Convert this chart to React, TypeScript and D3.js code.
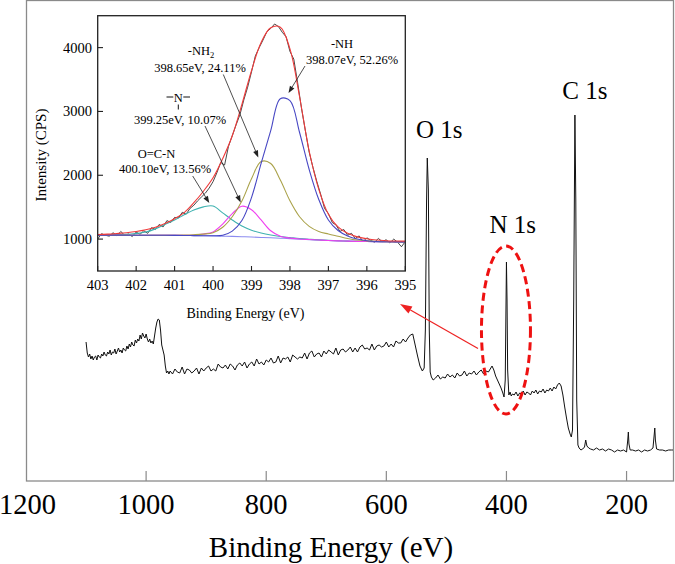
import {useEffect, useRef} from "react";
import * as d3 from "d3";

const W = 675;
const H = 564;
const FONT = "'Liberation Serif', 'Times New Roman', serif";

// survey spectrum (binding energy in eV, intensity in 100 CPS)
const surveyEnergy = [
  1100, 1098, 1096, 1094, 1092, 1090, 1088, 1086, 1084, 1082, 1080, 1078, 1076, 1074, 1072, 1070, 1068, 1066, 1064,
  1062, 1060, 1058, 1056, 1054, 1052, 1050, 1048, 1046, 1044, 1042, 1040, 1038, 1036, 1034, 1032, 1030, 1028, 1026,
  1024, 1022, 1020, 1018, 1016, 1014, 1012, 1010, 1008, 1006, 1004, 1002, 1000, 998, 996, 994, 992, 990, 988, 986,
  984, 982, 980, 978, 976, 974, 972, 970, 968, 966, 964, 962,
  960, 956, 952, 948, 944, 940, 936, 932, 928, 924, 920, 916, 912, 908, 904, 900, 896, 892, 888, 884,
  880, 876, 872, 868, 864, 860, 856, 852, 848, 844, 840, 836, 832, 828, 824, 820, 816, 812, 808, 804,
  800, 796, 792, 788, 784, 780, 776, 772, 768, 764, 760, 756, 752, 748, 744, 740, 736, 732, 728, 724,
  720, 716, 712, 708, 704, 700, 696, 692, 688, 684, 680, 676, 672, 668, 664, 660, 656, 652, 648, 644,
  640, 636, 632, 628, 624, 620, 616, 612, 608, 604, 600, 596, 592, 588, 584, 580, 576, 572, 568, 564,
  560, 556, 552, 548, 544, 540, 537, 535, 533, 531.8, 530, 528.5, 527, 525, 522, 518, 514, 510, 506, 502, 498, 494,
  490, 486, 482, 478, 474, 470, 466, 462, 458, 454, 450, 446, 442, 438, 434, 430, 426, 424, 421, 418, 415, 412, 409,
  406, 404, 402, 401, 400, 399, 398, 396, 394, 392, 390, 387, 384, 381, 378, 375, 372, 369, 366, 363, 360, 357, 354,
  351, 348, 345, 342, 339, 336, 333, 330, 327, 324, 321, 318, 315, 312, 309, 306, 303, 300, 297, 294, 292, 290, 288,
  286, 284.5, 283, 281, 279, 276, 273, 270, 268, 266, 263, 260, 255, 250, 245, 240, 235, 230, 225, 220, 215, 210, 205,
  200, 198, 197, 196, 194, 190, 185, 180, 175, 170, 165, 160, 156, 154, 153, 152, 150, 145, 140, 135, 130, 125, 122,
];
const surveyCounts = [
  139, 128, 124, 127, 122, 125, 121, 124, 125, 121, 126, 124, 123, 127, 125, 129, 126, 125, 129,
  127, 131, 126, 129, 128, 132, 127, 130, 133, 129, 131, 128, 133, 131, 130, 135, 132, 137, 134,
  139, 136, 135, 141, 138, 142, 140, 146, 142, 148, 145, 143, 147, 142, 139, 142, 138, 140, 137, 145,
  153, 159, 162, 161, 151, 136, 131, 126, 115, 108, 110, 107,
  110, 107, 112, 109, 108, 114, 107, 112, 111, 108, 110, 113, 107, 113, 110, 113, 115, 110, 112, 110,
  117, 114, 113, 116, 112, 117, 115, 111, 116, 118, 115, 119, 113, 117, 119, 115, 122, 117, 119, 116,
  121, 119, 123, 118, 119, 125, 118, 123, 122, 124, 119, 126, 124, 122, 124, 123, 128, 122, 128, 130,
  124, 127, 128, 124, 130, 127, 131, 129, 127, 133, 126, 131, 132, 129, 131, 134, 129, 133, 129, 134,
  136, 132, 133, 131, 137, 131, 135, 136, 134, 135, 139, 134, 137, 134, 140, 138, 138, 142, 139, 143,
  146, 147, 136, 125, 115, 110, 113, 151, 281, 323, 291, 151, 109, 104, 101, 103, 106, 102, 104, 103, 107, 104,
  106, 103, 108, 105, 106, 110, 105, 108, 107, 110, 106, 109, 111, 107, 110, 109, 113, 115, 111, 105, 101, 97, 93,
  88, 84, 101, 161, 219, 181, 111, 86, 89, 85, 87, 86, 89, 85, 88, 87, 90, 86, 89, 88, 86, 90, 88,
  91, 87, 90, 89, 92, 88, 91, 90, 93, 90, 94, 92, 96, 98, 95, 86, 74, 63, 53, 47, 44, 51, 181,
  366, 281, 81, 36, 33, 31, 32, 34, 41, 35, 33, 32, 31, 33, 31, 32, 30, 32, 31, 29, 31, 30, 31,
  29, 41, 49, 37, 31, 31, 30, 31, 29, 31, 30, 31, 33, 46, 53, 41, 32, 31, 31, 30, 31, 31, 31,
];
const surveyTicks = [1200, 1000, 800, 600, 400, 200];

// N 1s high resolution inset (CPS)
const insetEnergy = [
  403, 402.75, 402.5, 402.25, 402, 401.75, 401.5, 401.25, 401, 400.75, 400.5, 400.25, 400, 399.75, 399.5, 399.25,
  399, 398.75, 398.5, 398.25, 398, 397.75, 397.5, 397.25, 397, 396.75, 396.5, 396.25, 396, 395.75, 395.5, 395.25, 395,
];
const backgroundCPS = [
  1062, 1062, 1062, 1061, 1061, 1060, 1060, 1059, 1058, 1057, 1055, 1053, 1050, 1046, 1042, 1037,
  1032, 1026, 1020, 1014, 1008, 1000, 992, 985, 978, 972, 968, 964, 962, 959, 958, 957, 956,
];
const ocnCPS = [
  1063, 1064, 1067, 1074, 1085, 1110, 1160, 1230, 1300, 1380, 1455, 1505, 1518, 1410, 1300, 1205,
  1140, 1095, 1063, 1040, 1025, 1010, 998, 988, 980, 973, 968, 964, 962, 959, 958, 957, 956,
];
const nBridgeCPS = [
  1062, 1062, 1062, 1061, 1061, 1060, 1060, 1059, 1058, 1060, 1064, 1080, 1112, 1235, 1400, 1515,
  1460, 1300, 1130, 1045, 1015, 1002, 993, 985, 978, 972, 968, 964, 962, 959, 958, 957, 956,
];
const nh2CPS = [
  1062, 1062, 1062, 1061, 1061, 1060, 1060, 1059, 1060, 1062, 1068, 1078, 1100, 1185, 1350, 1595,
  1945, 2215, 2185, 1925, 1600, 1350, 1200, 1120, 1080, 1045, 1010, 985, 972, 963, 959, 957, 956,
];
const nhCPS = [
  1062, 1062, 1062, 1061, 1061, 1060, 1060, 1059, 1058, 1057, 1055, 1053, 1052, 1060, 1125, 1290,
  1650, 2185, 2700, 3200, 3170, 2670, 2090, 1620, 1300, 1135, 1050, 1000, 975, 963, 958, 957, 956,
];
const envelopeCPS = [
  1072, 1078, 1088, 1100, 1118, 1145, 1185, 1245, 1320, 1415, 1570, 1750, 1960, 2260, 2620, 3110,
  3640, 4080, 4310, 4320, 3980, 3230, 2380, 1780, 1390, 1190, 1090, 1035, 1005, 985, 975, 970, 968,
];
const rawEnergy = [
  403.0, 402.9, 402.8, 402.7, 402.6, 402.5, 402.4, 402.3, 402.2, 402.1, 402.0, 401.9, 401.8, 401.7, 401.6, 401.5,
  401.4, 401.3, 401.2, 401.1, 401.0, 400.9, 400.8, 400.7, 400.6, 400.5, 400.4, 400.3, 400.2, 400.1, 400.0, 399.9,
  399.8, 399.7, 399.6, 399.5, 399.4, 399.3, 399.2, 399.1, 399.0, 398.9, 398.8, 398.7, 398.6, 398.5, 398.4, 398.3,
  398.2, 398.1, 398.0, 397.9, 397.8, 397.7, 397.6, 397.5, 397.4, 397.3, 397.2, 397.1, 397.0, 396.9, 396.8, 396.7,
  396.6, 396.5, 396.4, 396.3, 396.2, 396.1, 396.0, 395.9, 395.8, 395.7, 395.6, 395.5, 395.4, 395.3, 395.2, 395.1,
  395.0,
];
const rawCPS = [
  1000, 1085, 1060, 1045, 1100, 1050, 1120, 1060, 1080, 1040, 1110, 1075, 1130, 1090, 1180, 1150,
  1230, 1190, 1290, 1260, 1340, 1330, 1420, 1390, 1480, 1530, 1600, 1660, 1720, 1800, 1900, 2040,
  2200, 2160, 2450, 2620, 2790, 2950, 3180, 3380, 3620, 3870, 4000, 4120, 4250, 4300, 4370, 4330,
  4240, 4170, 3940, 3820, 3450, 3050, 2700, 2360, 2120, 1900, 1700, 1480, 1400, 1260, 1220, 1120,
  1150, 1060, 1090, 1010, 1050, 960, 1020, 980, 950, 1010, 960, 990, 940, 1000, 950, 880,
  960,
];
const insetXTicks = [403, 402, 401, 400, 399, 398, 397, 396, 395];
const insetYTicks = [1000, 2000, 3000, 4000];

export default function App() {
  const svgRef = useRef<SVGSVGElement>(null);

  useEffect(() => {
    if (!svgRef.current) return;
    const svg = d3.select(svgRef.current);
    svg.selectAll("*").remove();

    // ---------- survey ----------
    const x = d3.scaleLinear().domain([1200, 121]).range([26, 674]);
    const y = d3.scaleLinear().domain([0, 481]).range([481, 0]);

    const survey = surveyEnergy.map((e, i) => [e, surveyCounts[i]] as [number, number]);
    svg
      .append("path")
      .datum(survey)
      .attr("fill", "none")
      .attr("stroke", "#111")
      .attr("stroke-width", 1)
      .attr("d", d3.line<[number, number]>().x((d) => x(d[0])).y((d) => y(d[1])));

    svg
      .append("rect")
      .attr("x", 26.5)
      .attr("y", 0.5)
      .attr("width", 647)
      .attr("height", 480.5)
      .attr("fill", "none")
      .attr("stroke", "#8a8a8a")
      .attr("stroke-width", 1.3);

    surveyTicks.slice(1).forEach((t) => {
      svg
        .append("line")
        .attr("x1", x(t))
        .attr("x2", x(t))
        .attr("y1", 471)
        .attr("y2", 481)
        .attr("stroke", "#8a8a8a")
        .attr("stroke-width", 1.2);
    });
    surveyTicks.forEach((t) => {
      svg
        .append("text")
        .attr("x", t === 1200 ? x(t) + 1.5 : x(t))
        .attr("y", 514)
        .attr("text-anchor", "middle")
        .style("font-family", FONT)
        .style("font-size", "28.5px")
        .text(t);
    });
    svg
      .append("text")
      .attr("x", 331)
      .attr("y", 557)
      .attr("text-anchor", "middle")
      .style("font-family", FONT)
      .style("font-size", "29px")
      .text("Binding Energy (eV)");

    // peak labels
    [
      {t: "O 1s", e: 512, v: 343},
      {t: "N 1s", e: 389.6, v: 248},
      {t: "C 1s", e: 269.3, v: 382},
    ].forEach((p) => {
      svg
        .append("text")
        .attr("x", x(p.e))
        .attr("y", y(p.v))
        .attr("text-anchor", "middle")
        .style("font-family", FONT)
        .style("font-size", "25px")
        .text(p.t);
    });

    // dashed ellipse around N 1s
    svg
      .append("ellipse")
      .attr("cx", x(400.8))
      .attr("cy", y(151))
      .attr("rx", 24.5)
      .attr("ry", 84)
      .attr("fill", "none")
      .attr("stroke", "#ee1111")
      .attr("stroke-width", 3)
      .attr("stroke-dasharray", "8 4.5");

    const arrow = (x1: number, y1: number, x2: number, y2: number, color: string, len: number, half: number, w: number) => {
      const a = Math.atan2(y2 - y1, x2 - x1);
      const bx = x2 - len * Math.cos(a);
      const by = y2 - len * Math.sin(a);
      svg
        .append("line")
        .attr("x1", x1)
        .attr("y1", y1)
        .attr("x2", bx)
        .attr("y2", by)
        .attr("stroke", color)
        .attr("stroke-width", w);
      const px = -Math.sin(a) * half;
      const py = Math.cos(a) * half;
      svg
        .append("path")
        .attr("d", `M${x2},${y2}L${bx + px},${by + py}L${bx - px},${by - py}Z`)
        .attr("fill", color);
    };
    arrow(478, 348.5, 400, 304, "#ee2222", 12, 4, 1.2);

    // ---------- inset ----------
    const xi = d3.scaleLinear().domain([403, 395]).range([97.7, 405.3]);
    const yi = d3.scaleLinear().domain([500, 4500]).range([271, 15.7]);

    svg
      .append("rect")
      .attr("x", 97.7)
      .attr("y", 15.7)
      .attr("width", 307.6)
      .attr("height", 255.3)
      .attr("fill", "white");

    svg
      .append("clipPath")
      .attr("id", "inset-clip")
      .append("rect")
      .attr("x", 97.7)
      .attr("y", 15.7)
      .attr("width", 307.6)
      .attr("height", 255.3);
    const plot = svg.append("g").attr("clip-path", "url(#inset-clip)");

    const smooth = d3
      .line<[number, number]>()
      .x((d) => xi(d[0]))
      .y((d) => yi(d[1]))
      .curve(d3.curveCatmullRom.alpha(0.5));
    const straight = d3
      .line<[number, number]>()
      .x((d) => xi(d[0]))
      .y((d) => yi(d[1]));

    plot
      .append("path")
      .datum(rawEnergy.map((e, i) => [e, rawCPS[i]] as [number, number]))
      .attr("fill", "none")
      .attr("stroke", "#333")
      .attr("stroke-width", 0.9)
      .attr("d", straight);

    const series: [number[], string][] = [
      [backgroundCPS, "#8c8cf0"],
      [ocnCPS, "#3fb2b0"],
      [nBridgeCPS, "#f040f0"],
      [nh2CPS, "#aaa24a"],
      [nhCPS, "#4848c4"],
      [envelopeCPS, "#f03a3a"],
    ];
    series.forEach(([vals, color]) => {
      plot
        .append("path")
        .datum(insetEnergy.map((e, i) => [e, vals[i]] as [number, number]))
        .attr("fill", "none")
        .attr("stroke", color)
        .attr("stroke-width", 1.1)
        .attr("d", smooth);
    });

    svg
      .append("rect")
      .attr("x", 97.7)
      .attr("y", 15.7)
      .attr("width", 307.6)
      .attr("height", 255.3)
      .attr("fill", "none")
      .attr("stroke", "#222")
      .attr("stroke-width", 1.3);

    insetXTicks.forEach((t) => {
      svg
        .append("line")
        .attr("x1", xi(t))
        .attr("x2", xi(t))
        .attr("y1", 271)
        .attr("y2", 266)
        .attr("stroke", "#222")
        .attr("stroke-width", 1.1);
      svg
        .append("text")
        .attr("x", xi(t))
        .attr("y", 290)
        .attr("text-anchor", "middle")
        .style("font-family", FONT)
        .style("font-size", "14.5px")
        .text(t);
    });
    insetYTicks.forEach((t) => {
      svg
        .append("line")
        .attr("x1", 97.7)
        .attr("x2", 103)
        .attr("y1", yi(t))
        .attr("y2", yi(t))
        .attr("stroke", "#222")
        .attr("stroke-width", 1.1);
      svg
        .append("text")
        .attr("x", 92)
        .attr("y", yi(t) + 5)
        .attr("text-anchor", "end")
        .style("font-family", FONT)
        .style("font-size", "14.5px")
        .text(t);
    });
    svg
      .append("text")
      .attr("x", 245.5)
      .attr("y", 318)
      .attr("text-anchor", "middle")
      .style("font-family", FONT)
      .style("font-size", "14px")
      .text("Binding Energy (eV)");
    svg
      .append("text")
      .attr("transform", "translate(46,155) rotate(-90)")
      .attr("text-anchor", "middle")
      .style("font-family", FONT)
      .style("font-size", "15px")
      .text("Intensity (CPS)");

    // component annotations
    const note = (tx: number, ty: number, s: string) =>
      svg
        .append("text")
        .attr("x", tx)
        .attr("y", ty)
        .attr("text-anchor", "middle")
        .style("font-family", FONT)
        .style("font-size", "12.5px")
        .text(s);

    note(342, 47.5, "-NH");
    note(352, 63.5, "398.07eV, 52.26%");
    const nh2 = note(201, 55, "-NH");
    nh2.append("tspan").attr("dy", 3).style("font-size", "8.5px").text("2");
    note(200, 71.5, "398.65eV, 24.11%");
    note(178.3, 101.5, "N");
    [
      [166.5, 97, 173.3, 97],
      [183.3, 97, 190, 97],
      [178.3, 104.5, 178.3, 109.5],
    ].forEach(([a, b, c, d]) => {
      svg.append("line").attr("x1", a).attr("y1", b).attr("x2", c).attr("y2", d).attr("stroke", "#111").attr("stroke-width", 1);
    });
    note(180, 124, "399.25eV, 10.07%");
    note(156.5, 158.3, "O=C-N");
    note(165, 173.3, "400.10eV, 13.56%");

    arrow(305, 66, 288.5, 93, "#222", 7, 2.6, 0.8);
    arrow(223.3, 74.5, 258.3, 157.5, "#222", 7, 2.6, 0.8);
    arrow(205, 126, 240.7, 202.5, "#222", 7, 2.6, 0.8);
    arrow(192.7, 176, 209.3, 203, "#222", 7, 2.6, 0.8);
  }, []);

  return (
    <svg
      ref={svgRef}
      width={W}
      height={H}
      style={{position: "absolute", left: 0, top: 0, background: "white", display: "block"}}
    ></svg>
  );
}
